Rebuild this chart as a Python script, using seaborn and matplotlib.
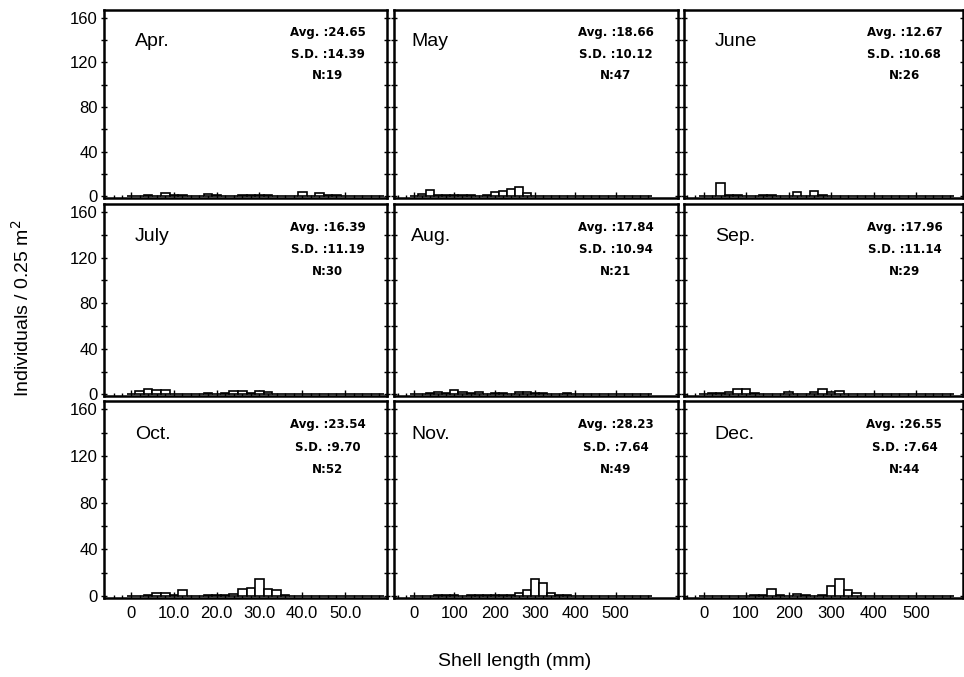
import numpy as np
import pandas as pd
import matplotlib
matplotlib.use("Agg")
import matplotlib.pyplot as plt
import seaborn as sns

# ---- data (2 mm size classes, counts per class) ----
bin_centers = np.arange(0, 60, 2)
months = ["Apr.", "May", "June", "July", "Aug.", "Sep.", "Oct.", "Nov.", "Dec."]
apr = [0,0,1,0,3,1,1,0,0,2,1,0,0,1,1,1,1,0,0,0,4,0,3,1,1,0,0,0,0,0]
may = [0,2,6,1,1,1,1,1,0,1,4,5,7,8,3,0,0,0,0,0,0,0,0,0,0,0,0,0,0,0]
jun = [0,0,12,1,1,0,0,1,1,0,0,4,0,5,1,0,0,0,0,0,0,0,0,0,0,0,0,0,0,0]
jul = [0,3,5,4,4,0,0,0,0,1,0,1,3,3,1,3,2,0,0,0,0,0,0,0,0,0,0,0,0,0]
aug = [0,0,1,2,1,4,2,1,2,0,1,1,0,2,2,1,1,0,0,1,0,0,0,0,0,0,0,0,0,0]
sep = [0,1,1,2,5,5,1,0,0,0,2,0,0,2,5,2,3,0,0,0,0,0,0,0,0,0,0,0,0,0]
octo = [0,0,1,3,3,1,5,0,0,1,1,1,2,6,7,15,6,5,1,0,0,0,0,0,0,0,0,0,0,0]
nov = [0,0,0,1,1,1,0,1,1,1,1,1,1,3,5,15,11,3,1,1,0,0,0,0,0,0,0,0,0,0]
dec = [0,0,0,0,0,0,1,1,6,1,0,2,1,0,1,9,15,5,3,0,0,0,0,0,0,0,0,0,0,0]
counts = [apr, may, jun, jul, aug, sep, octo, nov, dec]
avg = ["24.65", "18.66", "12.67", "16.39", "17.84", "17.96", "23.54", "28.23", "26.55"]
sd = ["14.39", "10.12", "10.68", "11.19", "10.94", "11.14", "9.70", "7.64", "7.64"]
n = ["19", "47", "26", "30", "21", "29", "52", "49", "44"]
x_ticks = [0, 10, 20, 30, 40, 50]
x_labels_left = ["0", "10.0", "20.0", "30.0", "40.0", "50.0"]
x_labels_other = ["0", "100", "200", "300", "400", "500"]
y_ticks = [0, 40, 80, 120, 160]

sns.set_theme(style="ticks")
plt.rcParams["font.family"] = ["Liberation Sans", "DejaVu Sans"]
plt.rcParams["text.color"] = "black"
plt.rcParams["xtick.color"] = "black"
plt.rcParams["ytick.color"] = "black"
plt.rcParams["xtick.labelcolor"] = "black"
plt.rcParams["ytick.labelcolor"] = "black"

W, H = 964, 677
fig = plt.figure(figsize=(W / 100, H / 100), dpi=100)
fig.patch.set_facecolor("white")

col_lefts = [104, 394, 684]
col_widths = [283, 284, 279]
row_tops = [10, 204, 401]
row_bottoms = [198, 396, 598]
col_xlims = [(-6.3, 59.8), (-5.0, 65.5), (-4.6, 61.0)]
label_x = [0.11, 0.06, 0.11]
stat_x = [0.79, 0.78, 0.79]
edges = [float(e) for e in range(-1, 61, 2)]

for i, m in enumerate(months):
    r, c = divmod(i, 3)
    rect = [col_lefts[c] / W, 1 - row_bottoms[r] / H,
            col_widths[c] / W, (row_bottoms[r] - row_tops[r]) / H]
    ax = fig.add_axes(rect)
    df = pd.DataFrame({"length": bin_centers.astype(float),
                       "count": np.asarray(counts[i], dtype=float)})
    sns.histplot(data=df, x="length", weights="count", bins=edges, ax=ax,
                 color="white", edgecolor="black", linewidth=1.2, alpha=1.0)
    ax.set_xlim(*col_xlims[c])
    ax.set_ylim(-1.5, 167)
    ax.set_xlabel("")
    ax.set_ylabel("")
    for s in ax.spines.values():
        s.set_visible(True)
        s.set_linewidth(1.8)
        s.set_color("black")
    ax.set_yticks(y_ticks)
    ax.set_yticks([20, 60, 100, 140], minor=True)
    ax.tick_params(axis="y", which="both", direction="inout", length=5,
                   width=1.0, right=True, left=True, labelsize=12, pad=2)
    ax.set_xticks(x_ticks)
    ax.set_xticks(np.arange(-4, 60, 2), minor=True)
    ax.tick_params(axis="x", which="major", direction="in", length=4,
                   width=1.0, labelsize=12, pad=6)
    ax.tick_params(axis="x", which="minor", direction="in", length=2.5, width=1.0)
    if c == 0:
        ax.set_yticklabels([str(v) for v in y_ticks])
    else:
        ax.set_yticklabels([])
    if r == 2:
        ax.set_xticklabels(x_labels_left if c == 0 else x_labels_other)
    else:
        ax.set_xticklabels([])
    ax.text(label_x[c], 0.83, m, transform=ax.transAxes, fontsize=14,
            ha="left", va="center", color="black")
    sfont = dict(transform=ax.transAxes, fontsize=8.5, ha="center",
                 va="center", fontweight="bold", color="black",
                 family=["Liberation Sans Narrow", "DejaVu Sans"])
    ax.text(stat_x[c], 0.88, "Avg. :" + avg[i], **sfont)
    ax.text(stat_x[c], 0.765, "S.D. :" + sd[i], **sfont)
    ax.text(stat_x[c], 0.65, "N:" + n[i], **sfont)

fig.text(515 / W, 1 - 662 / H, "Shell length (mm)", fontsize=14,
         ha="center", va="center", color="black")
fig.text(22 / W, 1 - 308 / H, "Individuals / 0.25 m$^2$", fontsize=14,
         rotation=90, ha="center", va="center", color="black")

fig.savefig("out.png", dpi=100, facecolor="white")
